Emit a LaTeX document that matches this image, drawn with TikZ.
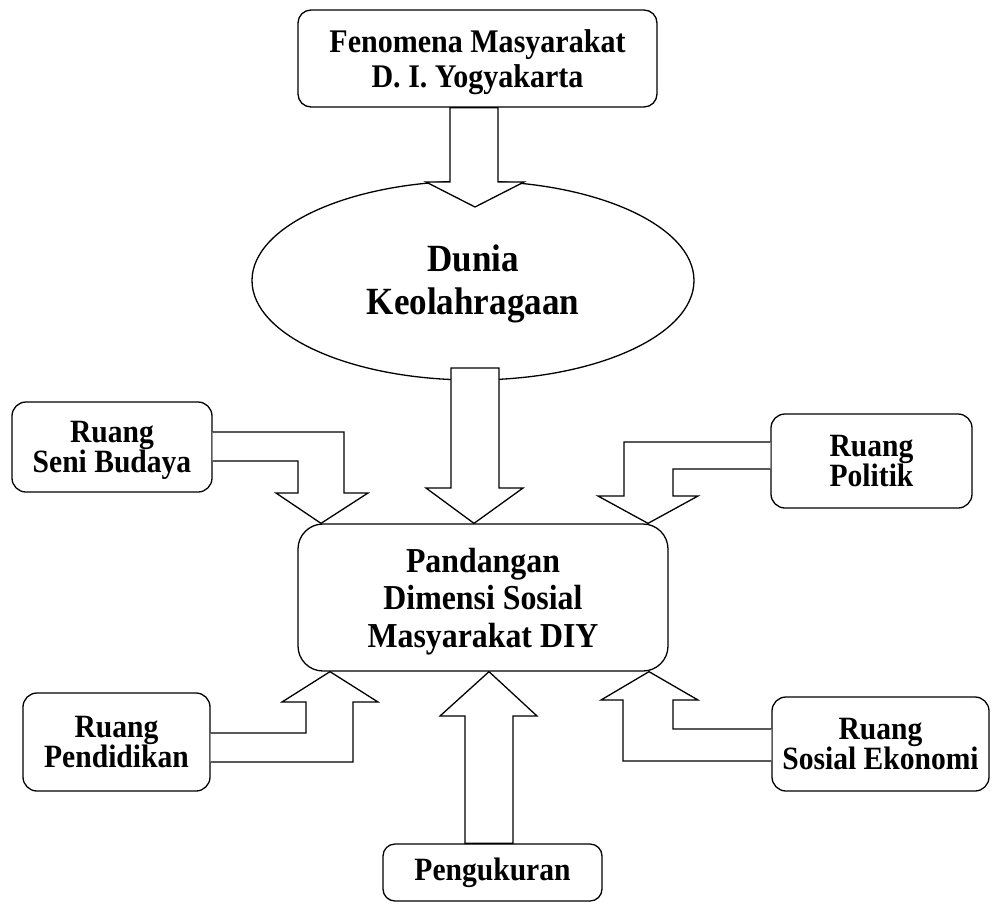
\documentclass[tikz,border=0pt]{standalone}
\usepackage{fontspec}
\setmainfont{Liberation Serif}[FakeStretch=0.91]
\usetikzlibrary{shapes.geometric,calc}
\tikzset{
  box/.style={draw, line width=1.3pt, rounded corners=14pt, inner sep=0pt, align=center, font=\bfseries\fontsize{32.5}{30.5}\selectfont},
  bigbox/.style={box, rounded corners=25pt, font=\bfseries\fontsize{35}{37.5}\selectfont},
  topbox/.style={box, rounded corners=13pt, font=\bfseries\fontsize{33}{35}\selectfont},
  ell/.style={draw, ellipse, line width=1.3pt, inner sep=0pt, align=center, font=\bfseries\fontsize{38.5}{43}\selectfont},
  blockarrow/.style={draw, fill=white, line width=1.3pt, line join=miter},
}
\begin{document}
\begin{tikzpicture}[x=1pt,y=-1pt]
\useasboundingbox (0,0) rectangle (992,903);
% nodes
\node[topbox, text depth=0pt, minimum width=359pt, minimum height=97pt] (fen) at (477.5,58.5) {Fenomena Masyarakat\\D. I. Yogyakarta};
\node[ell, text depth=2pt, minimum width=442pt, minimum height=199pt] (dun) at (473,280.5) {Dunia\\Keolahragaan};
\node[bigbox, text depth=-5pt, minimum width=370pt, minimum height=147pt] (main) at (483,597.5) {Pandangan\\Dimensi Sosial\\Masyarakat DIY};
\node[box, text depth=-2pt, minimum width=200pt, minimum height=90pt] (sb) at (112,447) {Ruang\\Seni Budaya};
\node[box, minimum width=201pt, minimum height=94pt] (pol) at (871.5,461) {Ruang\\Politik};
\node[box, minimum width=187pt, minimum height=98pt] (pend) at (116.5,742) {Ruang\\Pendidikan};
\node[box, minimum width=217pt, minimum height=94pt] (sos) at (880.5,744) {Ruang\\Sosial Ekonomi};
\node[box, rounded corners=12pt, minimum width=219pt, minimum height=57pt] (peng) at (492.5,872.5) {Pengukuran};
% block arrows
\draw[blockarrow] (fen.south -| 450,0) -- (450,182) -- (426,182) -- (475,207) -- (524,182) -- (498,182) -- (fen.south -| 498,0) -- cycle;
\draw[blockarrow] (451,368) -- (451,488) -- (426,488) -- (main.north -| 474,0) -- (523,488) -- (499,488) -- (499,368) -- cycle;
\draw[blockarrow] (sb.east |- 0,432) -- (344,432) -- (344,493) -- (368,493) -- (main.north -| 321,0) -- (276,493) -- (298,493) -- (298,461) -- (sb.east |- 0,461);
\draw[blockarrow] (pol.west |- 0,442) -- (624,442) -- (624,496) -- (598,496) -- (main.north -| 648,0) -- (698,496) -- (673,496) -- (673,469) -- (pol.west |- 0,469);
\draw[blockarrow] (pend.east |- 0,733) -- (306,733) -- (306,702) -- (282,702) -- (main.south -| 330,0) -- (378,702) -- (353,702) -- (353,762) -- (pend.east |- 0,762);
\draw[blockarrow] (sos.west |- 0,729) -- (673,729) -- (673,700) -- (698,700) -- (main.south -| 649,0) -- (601,700) -- (623,700) -- (623,761) -- (sos.west |- 0,761);
\draw[blockarrow] (peng.north -| 465,0) -- (465,716) -- (440,716) -- (main.south -| 489,0) -- (537,716) -- (513,716) -- (peng.north -| 513,0) -- cycle;
\end{tikzpicture}
\end{document}
